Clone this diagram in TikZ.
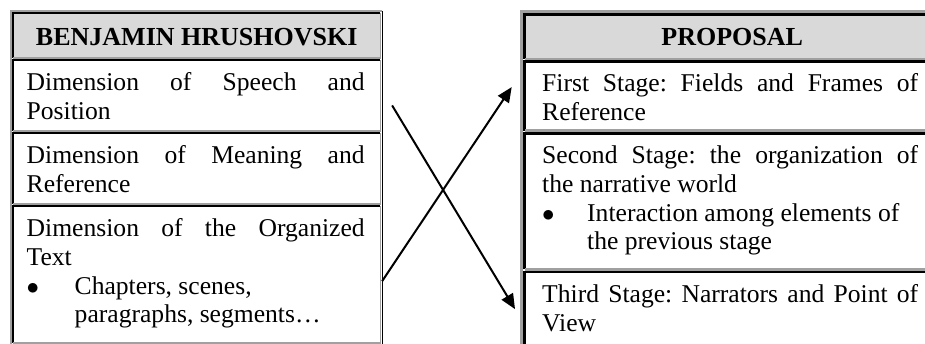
\documentclass[tikz,border=0pt]{standalone}
\usepackage{fontspec}
\setmainfont{Liberation Serif}
\usepackage{tikz}
\usetikzlibrary{arrows.meta,positioning}

\definecolor{headgray}{HTML}{D9D9D9}
\definecolor{rulegray}{HTML}{A0A0A0}
\frenchspacing

\begin{document}
\begin{tikzpicture}[
    x=1pt, y=1pt,
    every node/.style={font=\fontsize{25.6}{28.7}\selectfont},
    cell/.style={rectangle, inner sep=0pt, anchor=north west},
    lcell/.style={cell, minimum width=367pt},
    rcell/.style={cell, minimum width=415pt},
    head/.style={fill=headgray},
    title/.style={anchor=base, inner sep=0pt, font=\fontsize{26}{28.7}\selectfont\bfseries},
    txt/.style={inner sep=0pt, align=justify},
    ltxt/.style={txt, text width=338pt},
    rtxt/.style={txt, text width=376pt},
    arr/.style={-{Triangle[length=15pt, width=13pt]}, line width=2pt}
  ]
    \path[use as bounding box] (0,0) rectangle (925,343);
    \clip (0,0) rectangle (925,343);

    % left table
    \node[lcell, head, minimum height=44.5pt] (lh) at (13,330) {};
    \node[lcell, minimum height=70pt, below=2.5pt of lh] (l1) {};
    \node[lcell, minimum height=70pt, below=2.5pt of l1] (l2) {};
    \node[lcell, minimum height=136pt, below=2.5pt of l2] (l3) {};

    % right table
    \node[rcell, head, minimum height=44pt] (rh) at (524.5,328.5) {};
    \node[rcell, minimum height=68.5pt, below=2.8pt of rh] (r1) {};
    \node[rcell, minimum height=135.5pt, below=2.8pt of r1] (r2) {};
    \node[rcell, minimum height=90pt, below=2.8pt of r2] (r3) {};

    % 3D borders
    \foreach \c in {lh,l1,l2,l3} {
      \draw[black, line width=1.8pt] (\c.south west) |- (\c.north east);
      \draw[rulegray, line width=1.8pt] (\c.north east) |- (\c.south west);
    }
    \foreach \c in {rh,r1,r2,r3} {
      \draw[black, line width=2.6pt] (\c.south west) |- (\c.north east);
      \draw[rulegray, line width=2.6pt] (\c.north east) |- (\c.south west);
    }
    \draw[rulegray, line width=1.8pt] ([shift={(-2,-4)}]l3.south west) |- ([shift={(2,2)}]lh.north east);
    \draw[black, line width=1.8pt] ([shift={(2,2)}]lh.north east) |- ([shift={(-2,-4)}]l3.south west);
    \draw[rulegray, line width=2.6pt] ([shift={(-3,-4)}]r3.south west) |- ([shift={(3,3)}]rh.north east);

    % texts
    \node[title] (lht) at ([yshift=-9.75pt]lh.center) {BENJAMIN HRUSHOVSKI};
    \node[ltxt, below right=10.2pt and 13.5pt of l1.north west] (l1t)
      {\strut Dimension of Speech and\linebreak Position};
    \node[ltxt, below right=10.2pt and 13.5pt of l2.north west] (l2t)
      {\strut Dimension of Meaning and\linebreak Reference};
    \node[ltxt, below right=10.2pt and 13.5pt of l3.north west] (l3t)
      {\strut Dimension of the Organized\linebreak Text\par
       {\leftskip=48pt\noindent\llap{\makebox[48pt][l]{$\bullet$}}Chapters, scenes,\newline paragraphs, segments\ldots\par}};

    \node[title] (rht) at ([yshift=-8.5pt]rh.center) {PROPOSAL};
    \node[rtxt, below right=10pt and 17.5pt of r1.north west] (r1t)
      {\strut First Stage: Fields and Frames of\linebreak Reference};
    \node[rtxt, below right=10pt and 17.5pt of r2.north west] (r2t)
      {\strut Second Stage: the organization of\linebreak the narrative world\par
       {\leftskip=45pt\noindent\llap{\makebox[45pt][l]{$\bullet$}}Interaction among elements of\newline the previous stage\par}};
    \node[rtxt, below right=10pt and 17.5pt of r3.north west] (r3t)
      {\strut Third Stage: Narrators and Point of\linebreak View};

    % crossing arrows
    \draw[arr] ([shift={(11.7,-45)}]l1.north east) -- ([shift={(-9.5,-37)}]r3.north west);
    \draw[arr] ([shift={(1.7,-75)}]l3.north east) -- ([shift={(-12.8,-25.4)}]r1.north west);
  \end{tikzpicture}
\end{document}
